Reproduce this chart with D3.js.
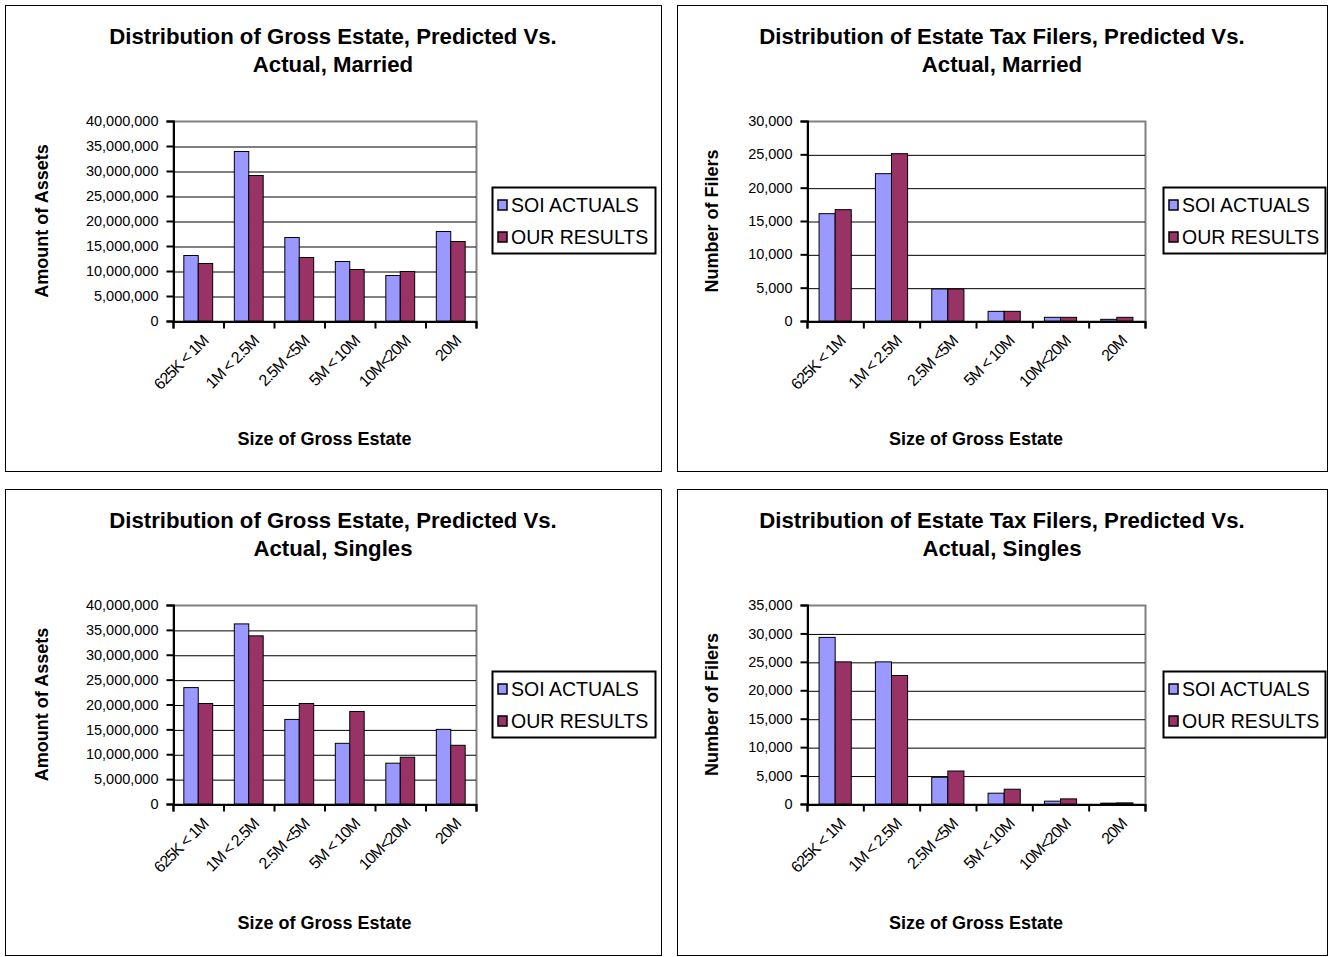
<!DOCTYPE html>
<html>
<head>
<meta charset="utf-8">
<script src="https://cdn.jsdelivr.net/npm/d3@7"></script>
<style>
  body { margin: 0; background: #fff; }
  text { font-family: "Liberation Sans", Arial, sans-serif; }
</style>
</head>
<body>
<div id="chart"></div>
<script>
// Category labels and series names
var categories = ["625K < 1M", "1M < 2.5M", "2.5M <5M", "5M < 10M", "10M<20M", "20M"];
var seriesNames = ["SOI ACTUALS", "OUR RESULTS"];

// Gross estate, married
var marriedAssetsActual = [13100000, 33900000, 16700000, 11900000, 9100000, 17900000];
var marriedAssetsOurs   = [11500000, 29100000, 12700000, 10300000, 9900000, 15900000];
// Filers, married
var marriedFilersActual = [16100, 22100, 4800, 1450, 550, 250];
var marriedFilersOurs   = [16700, 25100, 4800, 1450, 550, 550];
// Gross estate, singles
var singlesAssetsActual = [23400000, 36200000, 17000000, 12200000, 8200000, 15000000];
var singlesAssetsOurs   = [20200000, 33800000, 20200000, 18600000, 9400000, 11800000];
// Filers, singles
var singlesFilersActual = [29300, 25000, 4700, 1900, 500, 150];
var singlesFilersOurs   = [25000, 22600, 5800, 2600, 900, 200];

// Tick values
var assetTicks = [0, 5000000, 10000000, 15000000, 20000000, 25000000, 30000000, 35000000, 40000000];
var filerTicks30 = [0, 5000, 10000, 15000, 20000, 25000, 30000];
var filerTicks35 = [0, 5000, 10000, 15000, 20000, 25000, 30000, 35000];

var colors = ["#9999FF", "#993366"];

var svg = d3.select("#chart").append("svg")
    .attr("width", 1332)
    .attr("height", 957);

function drawPanel(config) {
    var box = config.box,
        plot = config.plot,
        ticks = config.ticks,
        series = [config.actual, config.ours];

    var g = svg.append("g");

    // outer frame
    g.append("rect")
        .attr("x", box.x + 0.5).attr("y", box.y + 0.5)
        .attr("width", box.w).attr("height", box.h)
        .attr("fill", "#fff").attr("stroke", "#000").attr("stroke-width", 1);

    // title
    var cx = box.x + box.w / 2;
    g.append("text")
        .attr("x", cx).attr("y", box.y + 39)
        .attr("text-anchor", "middle")
        .style("font-size", "22.2px").style("font-weight", "bold")
        .text(config.title[0]);
    g.append("text")
        .attr("x", cx).attr("y", box.y + 67)
        .attr("text-anchor", "middle")
        .style("font-size", "22.2px").style("font-weight", "bold")
        .text(config.title[1]);

    var width = plot.x1 - plot.x0,
        height = plot.y1 - plot.y0;

    var x = d3.scaleBand().domain(categories).range([plot.x0, plot.x1]);
    var xs = d3.scaleBand().domain(seriesNames).range([0, x.bandwidth()]).paddingOuter(0.75);
    var xTick = d3.scaleLinear().domain([0, categories.length]).range([plot.x0, plot.x1]);
    var y = d3.scaleLinear().domain([0, ticks[ticks.length - 1]]).range([plot.y1, plot.y0]);

    // plot area frame (grey)
    g.append("rect")
        .attr("x", plot.x0 + 0.5).attr("y", plot.y0 + 0.5)
        .attr("width", width).attr("height", height)
        .attr("fill", "#fff").attr("stroke", "#808080").attr("stroke-width", 2);

    // gridlines
    g.append("g")
        .attr("transform", "translate(" + plot.x0 + ",0)")
        .call(d3.axisLeft(y).tickValues(ticks.slice(1, -1)).tickSize(-width).tickFormat(""))
        .call(function (s) {
            s.select(".domain").remove();
            s.selectAll("line").attr("stroke", "#000").attr("transform", "translate(0,0.5)");
        });

    // bars
    var groups = g.append("g").selectAll("g")
        .data(categories)
        .enter().append("g")
        .attr("transform", function (d) { return "translate(" + x(d) + ",0)"; });

    groups.selectAll("rect")
        .data(function (d, i) {
            return seriesNames.map(function (s, j) { return { s: s, j: j, v: series[j][i] }; });
        })
        .enter().append("rect")
        .attr("x", function (d) { return xs(d.s); })
        .attr("y", function (d) { return y(d.v); })
        .attr("width", xs.bandwidth())
        .attr("height", function (d) { return plot.y1 - y(d.v); })
        .attr("fill", function (d) { return colors[d.j]; })
        .attr("stroke", "#000")
        .attr("stroke-width", 1);

    // y axis
    g.append("g")
        .attr("transform", "translate(" + (plot.x0 + 0.5) + ",0)")
        .call(d3.axisLeft(y).tickValues(ticks).tickSize(7).tickPadding(8).tickFormat(d3.format(",")))
        .call(function (s) {
            s.select(".domain").attr("stroke", "#000").attr("stroke-width", 2);
            s.selectAll("line").attr("stroke", "#000").attr("stroke-width", 2);
            s.selectAll("text").attr("fill", "#000")
                .style("font-size", "14.5px").style("font-family", "Liberation Sans, Arial, sans-serif");
        });

    // x axis (ticks at category boundaries)
    g.append("g")
        .attr("transform", "translate(0," + (plot.y1 + 0.5) + ")")
        .call(d3.axisBottom(xTick).tickValues(d3.range(categories.length + 1)).tickSize(7).tickFormat(""))
        .call(function (s) {
            s.select(".domain").attr("stroke", "#000").attr("stroke-width", 2);
            s.selectAll("line").attr("stroke", "#000").attr("stroke-width", 2);
        });

    // rotated category labels
    g.append("g").selectAll("text")
        .data(categories)
        .enter().append("text")
        .attr("transform", function (d) {
            return "translate(" + (x(d) + x.bandwidth() / 2 + 11) + "," + (plot.y1 + 21) + ") rotate(-45)";
        })
        .attr("text-anchor", "end")
        .style("font-size", "16px")
        .style("letter-spacing", "-1px")
        .text(function (d) { return d; });

    // axis titles
    g.append("text")
        .attr("x", (plot.x0 + plot.x1) / 2).attr("y", box.y + 440)
        .attr("text-anchor", "middle")
        .style("font-size", "18px").style("font-weight", "bold")
        .text("Size of Gross Estate");
    g.append("text")
        .attr("transform", "translate(" + config.yTitleX + "," + ((plot.y0 + plot.y1) / 2) + ") rotate(-90)")
        .attr("text-anchor", "middle")
        .style("font-size", "18px").style("font-weight", "bold")
        .text(config.yTitle);

    // legend
    var lg = config.legend;
    g.append("rect")
        .attr("x", lg.x + 0.5).attr("y", lg.y + 0.5)
        .attr("width", lg.w).attr("height", lg.h)
        .attr("fill", "#fff").attr("stroke", "#000").attr("stroke-width", 2);
    var items = g.append("g").selectAll("g")
        .data(seriesNames)
        .enter().append("g")
        .attr("transform", function (d, i) { return "translate(" + (lg.x + 6) + "," + (lg.y + 18 + i * 32) + ")"; });
    items.append("rect")
        .attr("x", 0).attr("y", -5)
        .attr("width", 9).attr("height", 10)
        .attr("fill", function (d, i) { return colors[i]; })
        .attr("stroke", "#000").attr("stroke-width", 1.5);
    items.append("text")
        .attr("x", 13).attr("y", 7)
        .style("font-size", "19.5px")
        .text(function (d) { return d; });
}

drawPanel({
    box: { x: 5, y: 5, w: 656, h: 466 },
    plot: { x0: 173, x1: 476, y0: 121, y1: 321 },
    ticks: assetTicks,
    actual: marriedAssetsActual, ours: marriedAssetsOurs,
    title: ["Distribution of Gross Estate, Predicted Vs.", "Actual, Married"],
    yTitle: "Amount of Assets", yTitleX: 48,
    legend: { x: 492, y: 187, w: 163, h: 66 }
});
drawPanel({
    box: { x: 677, y: 5, w: 650, h: 466 },
    plot: { x0: 807, x1: 1145, y0: 121, y1: 321 },
    ticks: filerTicks30,
    actual: marriedFilersActual, ours: marriedFilersOurs,
    title: ["Distribution of Estate Tax Filers, Predicted Vs.", "Actual, Married"],
    yTitle: "Number of Filers", yTitleX: 718,
    legend: { x: 1163, y: 187, w: 162, h: 66 }
});
drawPanel({
    box: { x: 5, y: 489, w: 656, h: 466 },
    plot: { x0: 173, x1: 476, y0: 605, y1: 804 },
    ticks: assetTicks,
    actual: singlesAssetsActual, ours: singlesAssetsOurs,
    title: ["Distribution of Gross Estate, Predicted Vs.", "Actual, Singles"],
    yTitle: "Amount of Assets", yTitleX: 48,
    legend: { x: 492, y: 671, w: 163, h: 66 }
});
drawPanel({
    box: { x: 677, y: 489, w: 650, h: 466 },
    plot: { x0: 807, x1: 1145, y0: 605, y1: 804 },
    ticks: filerTicks35,
    actual: singlesFilersActual, ours: singlesFilersOurs,
    title: ["Distribution of Estate Tax Filers, Predicted Vs.", "Actual, Singles"],
    yTitle: "Number of Filers", yTitleX: 718,
    legend: { x: 1163, y: 671, w: 162, h: 66 }
});
</script>
</body>
</html>
